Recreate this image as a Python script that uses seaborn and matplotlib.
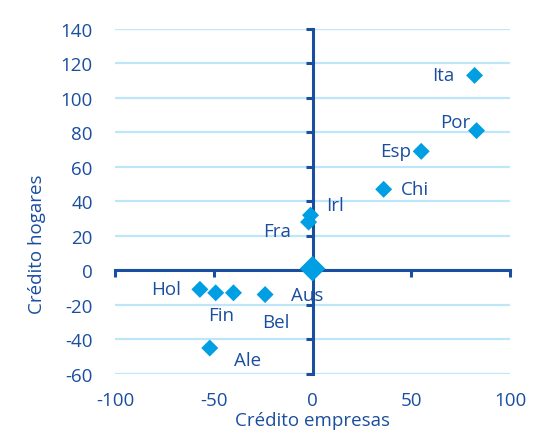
import matplotlib
matplotlib.use("Agg")
import matplotlib.pyplot as plt
import seaborn as sns
import pandas as pd

# ---- data ----
paises = ["Ita", "Por", "Esp", "Chi", "Irl", "Fra", "Aus", "Hol", "Fin", "", "Bel", "Ale"]
credito_empresas = [82, 83, 55, 36, -1, -2, 0, -57, -49, -40, -24, -52]
credito_hogares = [113, 81, 69, 47, 32, 28, 1, -11, -13, -13, -14, -45]
x_ticks = [-100, -50, 0, 50, 100]
y_ticks = [-60, -40, -20, 0, 20, 40, 60, 80, 100, 120, 140]

# label placement (pixel offsets, alignment)
label_pos = {
    "Ita": (-20, 0, "right"),
    "Por": (-6, 9, "right"),
    "Esp": (-10, 0, "right"),
    "Chi": (17, 0, "left"),
    "Irl": (16, 10, "left"),
    "Fra": (-18, -9, "right"),
    "Aus": (-22, -26, "left"),
    "Hol": (-19, 0, "right"),
    "Fin": (5, -22, "center"),
    "Bel": (11, -27, "center"),
    "Ale": (24, -12, "left"),
}

NAVY = "#1A4E9E"
BLUE = "#009FE3"
GRID = "#BFE6F8"
FS = 13.5

sns.set_theme(style="white")
plt.rcParams["font.family"] = ["Open Sans", "DejaVu Sans"]
plt.rcParams["axes.unicode_minus"] = False

df = pd.DataFrame({"x": credito_empresas, "y": credito_hogares, "p": paises})
df["big"] = [c == "Aus" for c in paises]

fig = plt.figure(figsize=(5.37, 4.39), dpi=100)
ax = fig.add_axes([0.214, 0.146, 0.736, 0.786])

for yv in y_ticks:
    ax.axhline(yv, color=GRID, lw=1.6, zorder=0)

sns.scatterplot(data=df[~df["big"]], x="x", y="y", marker="D", s=75,
                color=BLUE, edgecolor="none", ax=ax, zorder=3)
sns.scatterplot(data=df[df["big"]], x="x", y="y", marker="D", s=170,
                color=BLUE, edgecolor="none", ax=ax, zorder=3)

for xv, yv, lab in zip(credito_empresas, credito_hogares, paises):
    if not lab:
        continue
    dx, dy, ha = label_pos[lab]
    ax.annotate(lab, (xv, yv), xytext=(dx, dy), textcoords="offset pixels",
                ha=ha, va="center", color=NAVY, fontsize=FS)

ax.set_xlim(-100, 100)
ax.set_ylim(-60, 140)

# zero-crossing spines with ticks
for s in ["top", "right"]:
    ax.spines[s].set_visible(False)
ax.spines["left"].set_position(("data", 0))
ax.spines["bottom"].set_position(("data", 0))
for s in ["left", "bottom"]:
    ax.spines[s].set_color(NAVY)
    ax.spines[s].set_linewidth(2.2)
    ax.spines[s].set_zorder(2)
ax.set_xticks(x_ticks)
ax.set_yticks(y_ticks)
ax.tick_params(axis="both", which="major", direction="out", length=5, width=2.2,
               color=NAVY, left=True, bottom=True,
               labelleft=False, labelbottom=False)

# tick labels along the frame
secy = ax.secondary_yaxis("left")
secy.set_yticks(y_ticks)
secy.tick_params(length=0, labelsize=FS, labelcolor=NAVY, pad=16)
secy.spines["left"].set_visible(False)
secx = ax.secondary_xaxis("bottom")
secx.set_xticks(x_ticks)
secx.tick_params(length=0, labelsize=FS, labelcolor=NAVY, pad=12)
secx.spines["bottom"].set_visible(False)

ax.set_ylabel("Crédito hogares", color=NAVY, fontsize=FS)
ax.yaxis.set_label_coords(-0.175, 0.38)
secx.set_xlabel("Crédito empresas", color=NAVY, fontsize=FS, labelpad=2)
ax.set_xlabel("")

fig.savefig("out.png", dpi=100)
